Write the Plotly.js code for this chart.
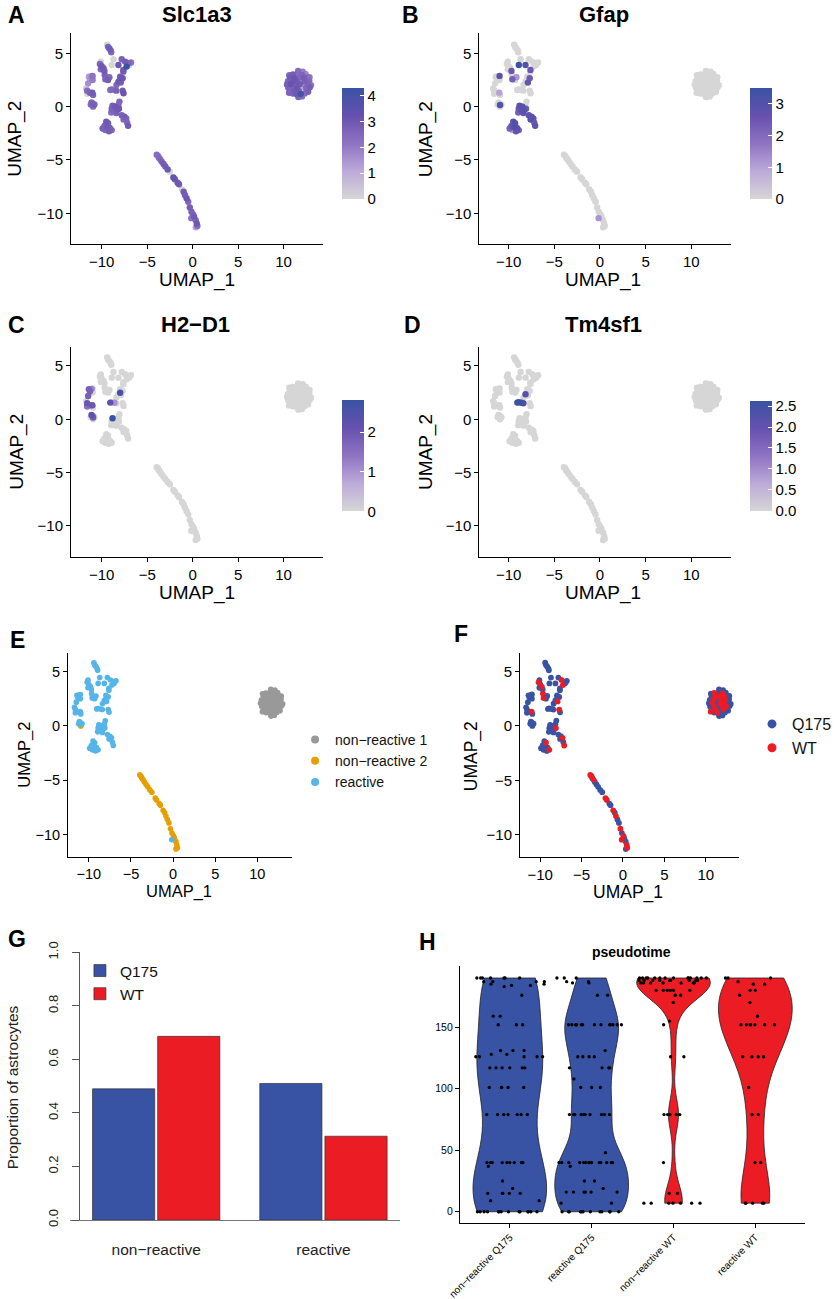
<!DOCTYPE html>
<html><head><meta charset="utf-8">
<script src="https://cdn.plot.ly/plotly-3.0.1.min.js"></script>
<style>html,body{margin:0;padding:0;background:#fff;}#chart{width:837px;height:1299px;}</style>
</head><body><div id="chart"></div>
<script>
// ---------------- UMAP cells: reactive cluster ----------------
const reactiveU1 = [-9.40,-9.30,-9.15,-9.00,-8.95, -8.70,-8.89,-8.16,-10.10, -10.20,-10.00,-9.80,-10.10,-9.70,
 -9.67,-9.30,-9.60,-9.15, -7.80,-7.43,-7.07,-6.78,-7.26,-7.00,-7.62, -7.62,-7.70,-7.97,-7.90,-8.16,-8.38,-7.97,
 -11.41,-11.10,-11.00,-11.30,-11.00,-11.49, -11.70,-11.60,-11.30,-11.03,-11.60,-10.95, -11.12,-11.00,-10.80,-11.20,-10.95,
 -9.06,-8.90,-8.60,-8.40, -7.70,-7.60, -8.05,-8.16, -8.81,-8.50,-8.90,-8.60,-8.30,-8.95,-8.40,-8.10,
 -7.80,-7.50,-7.30,-7.60,-7.20,-7.10, -9.50,-9.30,-9.70,-9.40,-9.10,-9.60,-9.20,-8.90,-9.90, -0.15];
const reactiveU2 = [5.80,5.60,5.45,5.25,5.10, 4.44,3.90,3.90,4.20, 4.00,3.80,3.60,3.50,3.35,
 2.97,2.50,2.57,2.75, 4.44,4.22,4.07,4.13,3.75,3.90,3.44, 3.28,2.66,2.81,2.25,2.34,2.03,2.49,
 2.81,2.85,2.88,2.60,2.50,2.18, 1.70,1.50,1.30,1.31,1.20,1.10, 0.40,0.30,0.20,0.20,0.16,
 1.56,1.60,1.55,1.50, 1.50,1.25, 0.47,0.16, 0.09,0.00,-0.20,-0.40,-0.30,-0.55,-0.60,-0.20,
 -0.80,-0.95,-1.10,-1.20,-1.50,-1.80, -1.40,-1.55,-1.80,-1.90,-2.00,-2.20,-2.30,-2.20,-2.05, -10.45];
const reactiveGenotype = ['Q175','Q175','Q175','Q175','Q175', 'Q175','Q175','Q175','Q175', 'WT','Q175','WT','Q175','Q175',
 'WT','Q175','WT','Q175', 'Q175','WT','Q175','Q175','WT','Q175','Q175', 'Q175','Q175','Q175','WT','Q175','Q175','Q175',
 'Q175','Q175','Q175','Q175','Q175','Q175', 'Q175','Q175','Q175','WT','Q175','Q175', 'Q175','Q175','Q175','Q175','Q175',
 'Q175','Q175','Q175','Q175', 'WT','Q175', 'Q175','Q175', 'Q175','Q175','Q175','Q175','Q175','Q175','Q175','WT',
 'Q175','Q175','WT','Q175','Q175','WT', 'Q175','WT','Q175','Q175','Q175','Q175','Q175','WT','Q175', 'WT'];
const reactiveSlc1a3 = [0,2.6,2.9,2.7,2.4, 0,0,3.0,0, 2.5,3.0,2.8,2.6,2.9,
 2.7,2.8,2.6,2.4, 2.7,2.9,2.6,2.3,4.3,0.3,3.0, 2.8,3.1,2.9,2.7,3.0,2.5,2.8,
 1.3,1.8,2.2,1.5,2.0,1.6, 0.4,2.4,2.7,2.9,0,2.6, 2.5,2.7,2.6,2.4,2.8,
 2.3,2.5,0,2.7, 2.9,3.1, 2.6,2.5, 2.8,3.0,2.7,2.6,2.9,2.4,2.7,3.0,
 2.7,2.8,2.6,2.4,2.5,2.9, 3.0,2.8,2.6,2.9,2.7,2.5,2.8,2.6,2.7, 2.2];
const reactiveGfap = [0,0,0,0,0, 0,3.5,3.0,0, 0,0,0,0,2.5,
 0,0,2.3,1.2, 0,0,0,0,0,0,2.5, 0,2.4,0,2.6,0,0,0,
 0,0,2.8,0,0,0, 0,0,0,1.0,0,0, 0,0,0,0,3.0,
 0,0,0,0, 0,0, 0,0, 2.8,3.0,2.5,2.7,2.9,2.3,2.6,2.4,
 2.7,2.8,2.6,2.9,2.5,2.7, 2.9,3.1,2.5,3.0,2.8,1.0,2.6,2.4,2.2, 1.2];
const reactiveH2D1 = [0,0,0,0,0, 0,0,0,0, 0,0,0,0,0,
 0,0,0,0, 0,0,0,0,0,0,0, 0,0,0,0,0,0,2.6,
 1.8,1.2,0,1.7,0,1.8, 0,2.0,1.6,2.0,1.4,0, 2.2,1.5,0,0,1.9,
 2.2,0,1.0,0, 0,0, 0,0, 2.8,0,0,0,0,0,0,0,
 0,0,0,0,0,0, 0,0,0,0,0,0,0,0,0, 0];
const reactiveTm4sf1 = [0,0,0,0,0, 0,0,0,0, 0,0,0,0,0,
 0,0,0,0, 0,0,0,0,0,0,0, 0,0,0,0,2.2,0,0,
 0,0,0,0,0,0, 0,0,0,0,0,0, 0,0,0,0,0,
 2.4,2.63,2.3,2.4, 0,0, 0,0, 0,0,0,0,0,0,0,0,
 0,0,0,0,0,0, 0,0,0,0,0,0,0,0,0, 0];

// ---------------- non-reactive 2 (curve) ----------------
const nr2U1 = [-3.95,-3.80,-3.70,-3.55,-3.40,-3.20,-3.00,-2.75,-2.51,-2.12,-1.95,-1.65,-1.50,-1.18,-0.99,-0.85,-0.67,-0.49,-0.31,-0.13,0.05,0.16,0.34,0.45,0.52,0.34,-10.95];
const nr2U2 = [-4.50,-4.62,-4.80,-4.95,-5.15,-5.38,-5.60,-5.88,-6.09,-6.63,-6.80,-7.13,-7.28,-7.75,-7.97,-8.28,-8.59,-8.91,-9.44,-9.84,-10.10,-10.31,-10.63,-10.94,-11.19,-11.31,0.00];
const nr2Genotype = ['WT','WT','Q175','WT','Q175','Q175','Q175','Q175','Q175','WT','WT','Q175','Q175','WT','Q175','WT','Q175','Q175','WT','Q175','WT','Q175','Q175','WT','WT','Q175','Q175'];
const nr2Slc1a3 = [2.3,1.8,2.5,2.0,2.7,2.9,2.8,3.0,0,3.2,2.9,3.0,2.8,0,2.9,2.7,3.0,2.6,2.8,2.7,2.5,2.9,2.6,3.0,2.4,1.2,2.2];
const nr2Gfap = [0,0,0,0,0,0,0,0,0,0,0,0,0,0,0,0,0,0,0,0,0,0,0,0,0,0,0];
const nr2H2D1 = [0,0,0,0,0,0,0,0,0,0,0,0,0,0,0,0,0,0,0,0,0,0,0,0,0,0,0];
const nr2Tm4sf1 = [0,0,0,0,0,0,0,0,0,0,0,0,0,0,0,0,0,0,0,0,0,0,0,0,0,0,0];

// ---------------- non-reactive 1 (blob) ----------------
const nr1U1 = [11.60,12.10,11.02,11.48,12.02,12.42,10.72,11.18,11.72,12.24,12.64,10.48,10.92,11.42,11.88,12.32,12.82,10.38,10.82,11.28,11.78,12.22,12.68,13.02,10.52,10.98,11.48,11.98,12.46,12.88,10.72,11.18,11.68,12.12,12.58,11.02,11.42,11.88,12.32,11.62,12.02,10.62,12.85,10.60,12.70];
const nr1U2 = [3.35,3.28,3.02,3.05,2.98,3.06,2.72,2.66,2.74,2.68,2.75,2.38,2.44,2.36,2.42,2.35,2.44,2.08,2.12,2.04,2.10,2.06,2.12,2.02,1.78,1.82,1.76,1.84,1.78,1.82,1.48,1.52,1.46,1.54,1.48,1.22,1.18,1.20,1.24,0.90,0.96,2.95,2.75,1.30,1.40];
const nr1Genotype = ['Q175','Q175','WT','Q175','WT','Q175','Q175','WT','WT','WT','Q175','Q175','WT','Q175','WT','WT','Q175','Q175','WT','Q175','WT','WT','Q175','Q175','Q175','WT','Q175','WT','WT','Q175','Q175','WT','Q175','WT','Q175','Q175','WT','Q175','Q175','Q175','Q175','Q175','Q175','WT','Q175'];
const nr1Slc1a3 = [2.4,2.0,2.8,2.2,2.6,1.7,2.9,3.1,2.5,2.8,2.3,2.6,2.2,3.0,1.4,2.7,2.4,2.8,3.2,2.5,2.9,0.6,2.6,2.1,2.7,2.4,3.1,1.0,2.5,2.8,2.3,2.9,2.6,0.2,2.2,2.7,3.0,4.0,2.4,2.6,2.3,2.5,2.0,2.6,2.7];
const nr1Gfap = [0,0,0,0,0,0,0,0,0,0,0,0,0,0,0,0,0,0,0,0,0,0,0,0,0,0,0,0,0,0,0,0,0,0,0,0,0,0,0,0,0,0,0,0,0];
const nr1H2D1 = [0,0,0,0,0,0,0,0,0,0,0,0,0,0,0,0,0,0,0,0,0,0,0,0,0,0,0,0,0,0,0,0,0,0,0,0,0,0,0,0,0,0,0,0,0];
const nr1Tm4sf1 = [0,0,0,0,0,0,0,0,0,0,0,0,0,0,0,0,0,0,0,0,0,0,0,0,0,0,0,0,0,0,0,0,0,0,0,0,0,0,0,0,0,0,0,0,0];

const clusterNames = ['non−reactive 1','non−reactive 2','reactive'];
const clusterColors = ['#999999','#E69F00','#56B4E9'];
const genotypeNames = ['Q175','WT'];
const genotypeColors = ['#3953A4','#EC1C24'];
const genes = ['Slc1a3','Gfap','H2−D1','Tm4sf1'];

// ---------------- G: proportions ----------------
const stateCats = ['non−reactive','reactive'];
const propQ175 = [0.49, 0.51];
const propWT = [0.686, 0.313];

// ---------------- H: pseudotime per group ----------------
const violinCats = ['non−reactive Q175','reactive Q175','non−reactive WT','reactive WT'];
const ptNrQ175 = [190,190,190,190,190,190,190,187,187,187,187,185,185,184,184,183,176,159,159,152,152,152,131,131,131,128,128,126,126,126,126,126,117,117,117,117,117,117,101,101,101,101,101,79,79,79,79,79,79,79,40,40,40,40,40,40,40,40,40,40,37,25,19,15,15,15,15,15,9,9,0,0,0,0,0,0,0,0,0,0,0,0,0,0];
const ptReQ175 = [190,190,190,187,187,186,186,176,176,152,152,152,152,152,152,152,152,152,152,152,152,152,152,131,126,126,126,126,117,117,117,117,108,101,101,101,79,79,79,79,79,79,79,79,79,79,48,40,40,40,40,40,40,40,40,40,40,40,40,40,40,37,25,25,19,16,16,16,16,16,16,7,7,0,0,0,0,0,0,0,0,0,0,0,0];
const ptNrWT = [190,190,190,190,190,190,190,190,190,190,190,190,190,190,188,188,188,188,188,188,188,188,188,186,186,186,186,186,186,186,180,180,180,180,180,180,176,176,170,155,152,126,126,79,79,79,79,79,40,15,15,7,7,7,7,7,7,7];
const ptReWT = [190,190,190,187,185,185,180,180,176,170,159,152,152,152,152,152,152,152,126,126,126,126,101,79,79,40,40,7,7,7,7,7];
const ptBandwidth = [30, 18, 13, 23];

// ---------------- assemble ----------------
const umap1 = reactiveU1.concat(nr2U1, nr1U1);
const umap2 = reactiveU2.concat(nr2U2, nr1U2);
const cellCluster = reactiveU1.map(()=>'reactive').concat(nr2U1.map(()=>'non−reactive 2'), nr1U1.map(()=>'non−reactive 1'));
const cellGenotype = reactiveGenotype.concat(nr2Genotype, nr1Genotype);
const expr = [
  reactiveSlc1a3.concat(nr2Slc1a3, nr1Slc1a3),
  reactiveGfap.concat(nr2Gfap, nr1Gfap),
  reactiveH2D1.concat(nr2H2D1, nr1H2D1),
  reactiveTm4sf1.concat(nr2Tm4sf1, nr1Tm4sf1)
];

const W = 837, H = 1299;
const fx = p => p / W;
const fy = p => 1 - p / H;
const FONT = '"Liberation Sans", Arial, Helvetica, sans-serif';

const featScale = [[0,'#D6D6D6'],[0.25,'#BCAAD9'],[0.5,'#8F73C3'],[0.75,'#6651AE'],[1,'#3A52A4']];

const umapPanels = [
  {xl:72, xr:327, xrange:[-13.37,14.3], yt:33, yb:244.3, yrange:[-12.9,6.9], tick:15},
  {xl:485.7, xr:740.7, xrange:[-13.22,14.35], yt:33, yb:244.3, yrange:[-12.9,6.9], tick:15},
  {xl:72, xr:327, xrange:[-13.37,14.3], yt:346.7, yb:556.7, yrange:[-12.88,6.8], tick:15},
  {xl:485.7, xr:740.7, xrange:[-13.22,14.35], yt:346.7, yb:556.7, yrange:[-12.88,6.8], tick:15},
  {xl:69, xr:295.7, xrange:[-12.46,14.1], yt:652.7, yb:857, yrange:[-12.04,6.72], tick:14.5},
  {xl:527, xr:748.7, xrange:[-12.43,14.0], yt:652.7, yb:857, yrange:[-12.04,6.72], tick:15}
];
const cbars = [
  {x:347, top:88, bottom:199, tickvals:[0,1,2,3,4]},
  {x:760, top:88, bottom:199, tickvals:[0,1,2,3]},
  {x:347, top:400.7, bottom:511.3, tickvals:[0,1,2]},
  {x:760, top:400.7, bottom:510.7, tickvals:[0,0.5,1,1.5,2,2.5], ticktext:['0.0','0.5','1.0','1.5','2.0','2.5']}
];

const layout = {
  width: W, height: H, margin:{l:0,r:0,t:0,b:0},
  paper_bgcolor:'#fff', plot_bgcolor:'rgba(0,0,0,0)',
  font:{family:FONT, color:'#000'},
  hovermode:false, barmode:'group', bargap:0.221, bargroupgap:0.045,
  violinmode:'overlay',
  annotations:[], showlegend:true
};

umapPanels.forEach((p,i)=>{
  const n = i===0 ? '' : String(i+1);
  layout['xaxis'+n] = {domain:[fx(p.xl),fx(p.xr)], range:p.xrange, anchor:'y'+n, showline:true, linecolor:'#000', linewidth:1.1,
    ticks:'outside', ticklen:4, tickcolor:'#000', tickwidth:1, showgrid:false, zeroline:false,
    tickvals:[-10,-5,0,5,10], tickfont:{size:p.tick, color:'#000'}};
  layout['yaxis'+n] = {domain:[fy(p.yb),fy(p.yt)], range:p.yrange, anchor:'x'+n, showline:true, linecolor:'#000', linewidth:1.1,
    ticks:'outside', ticklen:4, tickcolor:'#000', tickwidth:1, showgrid:false, zeroline:false,
    tickvals:[-10,-5,0,5], tickfont:{size:p.tick, color:'#000'}};
});

layout.xaxis7 = {domain:[fx(71),fx(405.7)], anchor:'y7', type:'category', range:[-0.515,1.46], showline:true, linecolor:'#777', linewidth:1,
  ticks:'', showgrid:false, zeroline:false, tickfont:{size:15.5,color:'#222'}, ticklabelstandoff:15};
layout.yaxis7 = {domain:[fy(1220),fy(952.3)], anchor:'free', position:fx(80), range:[0,1], showline:true, linecolor:'#555', linewidth:1,
  ticks:'outside', ticklen:7, tickcolor:'#555', showgrid:false, zeroline:false,
  tickvals:[0,0.2,0.4,0.6,0.8,1.0], ticktext:['0.0','0.2','0.4','0.6','0.8','1.0'], tickangle:-90,
  tickfont:{size:13,color:'#222'}, ticklabelstandoff:9};
layout.xaxis8 = {domain:[fx(466),fx(816)], anchor:'y8', type:'category', categoryorder:'array', categoryarray:violinCats,
  range:[-0.61,3.61], showline:true, linecolor:'#000', linewidth:1, ticks:'outside', ticklen:4, tickcolor:'#000',
  showgrid:false, zeroline:false, tickangle:-45, tickfont:{size:10,color:'#000'}};
layout.yaxis8 = {domain:[fy(1222.7),fy(965.7)], anchor:'x8', range:[-8.9,200], showline:true, linecolor:'#000', linewidth:1,
  ticks:'outside', ticklen:4, tickcolor:'#000', showgrid:false, zeroline:false, tickvals:[0,50,100,150],
  tickfont:{size:10.5,color:'#000'}};

layout.legend = {x:fx(299), xanchor:'left', y:fy(724), yanchor:'top', bgcolor:'rgba(0,0,0,0)', borderwidth:0,
  font:{size:14, family:FONT, color:'#111'}};
layout.legend2 = {x:fx(762), xanchor:'left', y:fy(707), yanchor:'top', bgcolor:'rgba(0,0,0,0)', borderwidth:0,
  font:{size:16, family:FONT, color:'#111'}};
layout.legend3 = {x:fx(81), xanchor:'left', y:fy(954), yanchor:'top', bgcolor:'rgba(0,0,0,0)', borderwidth:0,
  font:{size:15.5, family:FONT, color:'#111'}};

const traces = [];

genes.forEach((g,i)=>{
  const n = i===0 ? '' : String(i+1);
  const v = expr[i];
  const order = v.map((_,k)=>k).sort((a,b)=>v[a]-v[b]);
  const cb = cbars[i];
  const cmax = Math.max(...v);
  traces.push({type:'scatter', mode:'markers', xaxis:'x'+n, yaxis:'y'+n, showlegend:false,
    x: order.map(k=>umap1[k]), y: order.map(k=>umap2[k]),
    marker:{size:6.4, color: order.map(k=>v[k]), colorscale:featScale, cmin:0, cmax:cmax, line:{width:0},
      colorbar:{x:fx(cb.x), xanchor:'left', xpad:0, y:fy((cb.top+cb.bottom)/2), yanchor:'middle', ypad:0,
        len:cb.bottom-cb.top, lenmode:'pixels', thickness:22, thicknessmode:'pixels', outlinewidth:0, borderwidth:0,
        ticks:'inside', ticklen:4, tickcolor:'#fff', tickwidth:1, tickvals:cb.tickvals, ticktext:cb.ticktext,
        tickfont:{size:15, family:FONT, color:'#000'}}}
  });
});

clusterNames.forEach((c,j)=>{
  const idx = cellCluster.map((v,k)=>v===c?k:-1).filter(k=>k>=0);
  traces.push({type:'scatter', mode:'markers', xaxis:'x5', yaxis:'y5', showlegend:false,
    x: idx.map(k=>umap1[k]), y: idx.map(k=>umap2[k]), marker:{size:5.6, color:clusterColors[j]}});
});
clusterNames.forEach((c,j)=>{
  traces.push({type:'scatter', mode:'markers', xaxis:'x5', yaxis:'y5', x:[null], y:[null], name:c,
    legend:'legend', showlegend:true, marker:{size:8, color:clusterColors[j]}});
});
genotypeNames.forEach((g,j)=>{
  const idx = cellGenotype.map((v,k)=>v===g?k:-1).filter(k=>k>=0);
  traces.push({type:'scatter', mode:'markers', xaxis:'x6', yaxis:'y6', showlegend:false,
    x: idx.map(k=>umap1[k]), y: idx.map(k=>umap2[k]), marker:{size:5.8, color:genotypeColors[j]}});
});
genotypeNames.forEach((g,j)=>{
  traces.push({type:'scatter', mode:'markers', xaxis:'x6', yaxis:'y6', x:[null], y:[null], name:g,
    legend:'legend2', showlegend:true, marker:{size:9, color:genotypeColors[j]}});
});

traces.push({type:'bar', x:stateCats, y:propQ175, name:'Q175', xaxis:'x7', yaxis:'y7', legend:'legend3',
  marker:{color:genotypeColors[0], line:{color:'#333', width:0.7}}});
traces.push({type:'bar', x:stateCats, y:propWT, name:'WT', xaxis:'x7', yaxis:'y7', legend:'legend3',
  marker:{color:genotypeColors[1], line:{color:'#333', width:0.7}}});

const ptSets = [ptNrQ175, ptReQ175, ptNrWT, ptReWT];
const violinFill = [genotypeColors[0], genotypeColors[0], genotypeColors[1], genotypeColors[1]];
ptSets.forEach((vals,j)=>{
  traces.push({type:'violin', xaxis:'x8', yaxis:'y8', showlegend:false,
    x: vals.map(()=>violinCats[j]), y: vals, fillcolor: violinFill[j], opacity:1,
    line:{color:'#222', width:0.8}, spanmode:'hard', scalemode:'width', width:0.9, bandwidth: ptBandwidth[j],
    points:'all', pointpos:0, jitter:0.95, marker:{size:3.3, color:'#000', line:{width:0}},
    box:{visible:false}, meanline:{visible:false}});
});

const ann = (text, x, y, size, opts={}) => Object.assign({text, x:fx(x), y:fy(y), xref:'paper', yref:'paper',
  xanchor:'center', yanchor:'middle', showarrow:false, font:{size, family:FONT, color:'#000'}}, opts);
[['A',17,15],['B',416,15],['C',17,325],['D',418,325],['E',17.5,640],['F',467.5,634],['G',17,939],['H',433,942]]
  .forEach(a=>layout.annotations.push(ann('<b>'+a[0]+'</b>', a[1], a[2], 23)));
[[genes[0],200,14.5],[genes[1],612.5,14.5],[genes[2],198,324.5],[genes[3],612,324.5]]
  .forEach(a=>layout.annotations.push(ann('<b>'+a[0]+'</b>', a[1], a[2], 22)));
[[200,280,19],[611.5,280,19],[199.5,593,19],[611.5,593,19],[181,891,16.5],[636.7,892,17.5]]
  .forEach(a=>layout.annotations.push(ann('UMAP_1', a[0], a[1], a[2])));
[[15,139,19],[432,139,19],[17,452,19],[431.7,452,19],[25,755,16.5],[477.5,756,17.5]]
  .forEach(a=>layout.annotations.push(ann('UMAP_2', a[0], a[1], a[2], {textangle:-90})));
layout.annotations.push(ann('Proportion of astrocytes', 13, 1087.5, 15.5, {textangle:-90, font:{size:15.5, family:FONT, color:'#222'}}));
layout.annotations.push(ann('<b>pseudotime</b>', 640, 952, 14));

Plotly.newPlot('chart', traces, layout, {displayModeBar:false, responsive:false});
</script></body></html>
